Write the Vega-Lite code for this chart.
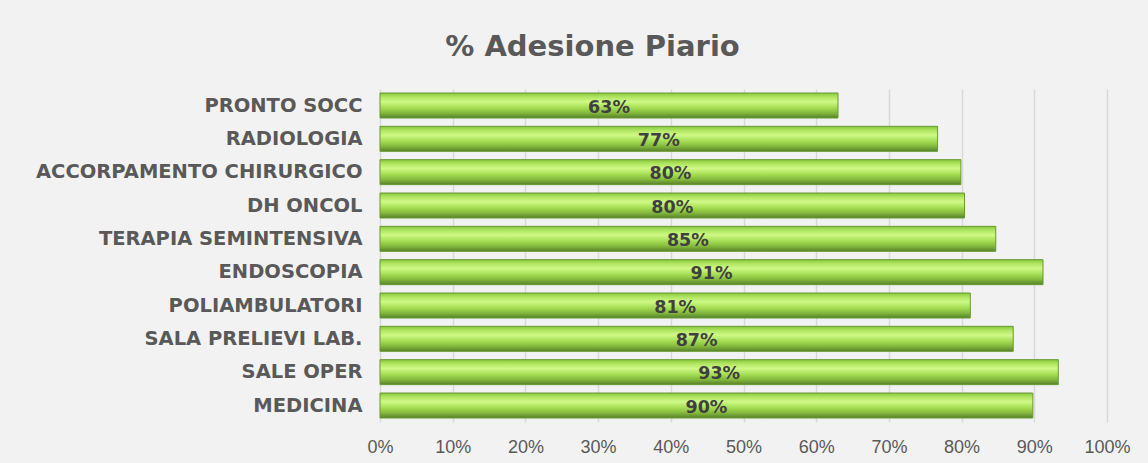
{
  "$schema": "https://vega.github.io/schema/vega-lite/v6.json",
  "autosize": "none",
  "width": 727,
  "height": 333,
  "padding": {"left": 380, "top": 89, "right": 41, "bottom": 41},
  "background": "#f2f2f2",
  "title": {
    "text": "% Adesione Piario",
    "font": "DejaVu Sans",
    "fontSize": 29,
    "fontWeight": "bold",
    "color": "#595959",
    "anchor": "middle",
    "frame": "group",
    "dx": -151,
    "offset": 27
  },
  "config": {
    "view": {"stroke": null},
    "font": "Liberation Sans"
  },
  "data": {
    "values": [
      {"reparto": "PRONTO SOCC", "adesione": 0.63},
      {"reparto": "RADIOLOGIA", "adesione": 0.767},
      {"reparto": "ACCORPAMENTO CHIRURGICO", "adesione": 0.799},
      {"reparto": "DH ONCOL", "adesione": 0.804},
      {"reparto": "TERAPIA SEMINTENSIVA", "adesione": 0.847},
      {"reparto": "ENDOSCOPIA", "adesione": 0.912},
      {"reparto": "POLIAMBULATORI", "adesione": 0.812},
      {"reparto": "SALA PRELIEVI LAB.", "adesione": 0.871},
      {"reparto": "SALE OPER", "adesione": 0.933},
      {"reparto": "MEDICINA", "adesione": 0.898}
    ]
  },
  "encoding": {
    "y": {
      "field": "reparto",
      "type": "nominal",
      "sort": null,
      "scale": {"paddingInner": 0.25, "paddingOuter": 0.12},
      "axis": {
        "title": null,
        "ticks": false,
        "domain": false,
        "labelPadding": 18,
        "labelFont": "DejaVu Sans",
        "labelFontSize": 19.5,
        "labelFontWeight": "bold",
        "labelColor": "#595959",
        "labelLimit": 400
      }
    }
  },
  "resolve": {"scale": {"x": "independent"}},
  "layer": [
    {
      "mark": {
        "type": "bar",
        "color": {
          "gradient": "linear",
          "x1": 0, "y1": 0, "x2": 0, "y2": 1,
          "stops": [
            {"offset": 0, "color": "#86c63a"},
            {"offset": 0.15, "color": "#aee460"},
            {"offset": 0.35, "color": "#cff985"},
            {"offset": 0.6, "color": "#a3dc52"},
            {"offset": 0.8, "color": "#82b83c"},
            {"offset": 1, "color": "#587f2c"}
          ]
        },
        "stroke": "#6a9a30",
        "strokeWidth": 1
      },
      "encoding": {
        "x": {
          "field": "adesione",
          "type": "quantitative",
          "scale": {"domain": [0, 1], "nice": false},
          "axis": {
            "title": null,
            "format": ".0%",
            "values": [0, 0.1, 0.2, 0.3, 0.4, 0.5, 0.6, 0.7, 0.8, 0.9, 1],
            "labelOverlap": false,
            "labelFlush": false,
            "ticks": false,
            "domain": false,
            "grid": true,
            "gridColor": "#d9d9d9",
            "gridWidth": 1.5,
            "labelPadding": 16,
            "labelFont": "Liberation Sans",
            "labelFontSize": 18,
            "labelColor": "#595959"
          }
        }
      }
    },
    {
      "mark": {
        "type": "text",
        "font": "DejaVu Sans",
        "fontSize": 17.5,
        "fontWeight": "bold",
        "color": "#404040",
        "align": "center",
        "baseline": "middle",
        "dy": 2
      },
      "encoding": {
        "x": {
          "field": "adesione",
          "type": "quantitative",
          "scale": {"domain": [0, 2], "nice": false},
          "axis": null
        },
        "text": {"field": "adesione", "type": "quantitative", "format": ".0%"}
      }
    }
  ]
}
